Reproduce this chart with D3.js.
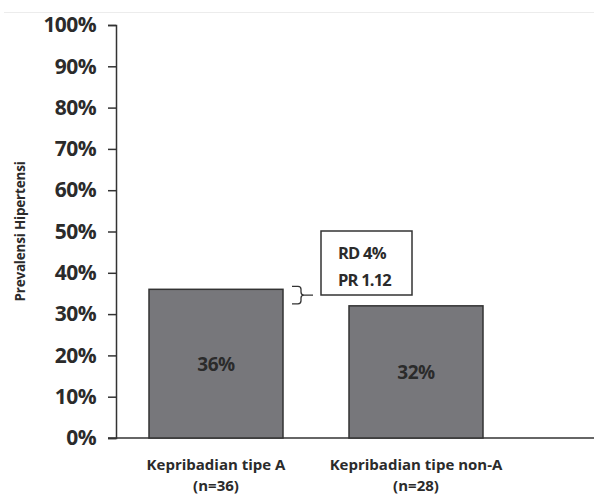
<!DOCTYPE html>
<html>
<head>
<meta charset="utf-8">
<script src="https://cdn.jsdelivr.net/npm/d3@7"></script>
<style>
  html, body { margin: 0; padding: 0; background: #fff; }
  svg { display: block; }
  text { font-family: "Open Sans", "DejaVu Sans", sans-serif; font-weight: 700; fill: #2b2b2b; }
</style>
</head>
<body>
<script>
const categories = ["Kepribadian tipe A", "Kepribadian tipe non-A"];
const sampleSizes = ["(n=36)", "(n=28)"];
const values = [0.36, 0.32];
const valueLabels = ["36%", "32%"];
const tickValues = [0, 0.1, 0.2, 0.3, 0.4, 0.5, 0.6, 0.7, 0.8, 0.9, 1.0];
const tickLabels = ["0%", "10%", "20%", "30%", "40%", "50%", "60%", "70%", "80%", "90%", "100%"];
const annotationLines = ["RD 4%", "PR 1.12"];
const yTitle = "Prevalensi Hipertensi";

const W = 594, H = 497;
const svg = d3.select("body").append("svg").attr("width", W).attr("height", H);

// faint page rule at top
svg.append("line").attr("x1", 4).attr("x2", W).attr("y1", 12.5).attr("y2", 12.5)
  .attr("stroke", "#ececec").attr("stroke-width", 1);

const y = d3.scaleLinear().domain([0, 1]).range([438, 25]);
const x = d3.scaleBand().domain(categories).range([116, 516]).paddingInner(0.33).paddingOuter(0.165);

// baseline
svg.append("line")
  .attr("x1", 108).attr("x2", W).attr("y1", y(0)).attr("y2", y(0))
  .attr("stroke", "#333").attr("stroke-width", 1.5);

// y axis
const yAxis = d3.axisLeft(y).tickValues(tickValues)
  .tickFormat((d, i) => tickLabels[i]).tickSize(8).tickPadding(12);
const gy = svg.append("g").attr("transform", "translate(116,0)").call(yAxis);
gy.selectAll("path, line").attr("stroke", "#333").attr("stroke-width", 1.5);
gy.selectAll("text").style("font-size", "21px").style("letter-spacing", "-0.6px")
  .style("font-family", "'Open Sans', sans-serif").style("font-weight", 700).attr("fill", "#2b2b2b");

// y title
svg.append("text")
  .attr("transform", `translate(25,${y(0.5)}) rotate(-90)`)
  .attr("text-anchor", "middle")
  .style("font-size", "13.5px")
  .style("letter-spacing", "-0.2px")
  .text(yTitle);

// bars
svg.selectAll("rect.bar").data(values).join("rect")
  .attr("class", "bar")
  .attr("x", (d, i) => x(categories[i]))
  .attr("width", x.bandwidth())
  .attr("y", d => y(d))
  .attr("height", d => y(0) - y(d))
  .attr("fill", "#77777b")
  .attr("stroke", "#333")
  .attr("stroke-width", 1.5);

// bar labels
svg.selectAll("text.vlab").data(values).join("text")
  .attr("class", "vlab")
  .attr("x", (d, i) => x(categories[i]) + x.bandwidth() / 2)
  .attr("y", d => (y(d) + y(0)) / 2 + 7)
  .attr("text-anchor", "middle")
  .style("font-size", "19px")
  .style("letter-spacing", "-0.4px")
  .text((d, i) => valueLabels[i]);

// category labels
categories.forEach((c, i) => {
  const cx = x(c) + x.bandwidth() / 2;
  svg.append("text").attr("text-anchor", "middle").style("font-size", "15px")
    .style("letter-spacing", "0px").attr("x", cx).attr("y", 470).text(c);
  svg.append("text").attr("text-anchor", "middle").style("font-size", "15px")
    .style("letter-spacing", "0px").attr("x", cx).attr("y", 491).text(sampleSizes[i]);
});

// annotation: brace + box
const bx0 = x(categories[0]) + x.bandwidth() + 9;
const yTop = y(values[0]) - 3, yBot = y(values[1]) - 2, yMid = (yTop + yBot) / 2;
const bxMid = bx0 + 9, bx1 = bx0 + 21;
svg.append("path")
  .attr("d", `M${bx0},${yTop} H${bxMid-3} Q${bxMid},${yTop} ${bxMid},${yTop+3} V${yMid-3} Q${bxMid},${yMid} ${bxMid+3},${yMid} H${bx1}` +
             ` M${bxMid+3},${yMid} Q${bxMid},${yMid} ${bxMid},${yMid+3} V${yBot-3} Q${bxMid},${yBot} ${bxMid-3},${yBot} H${bx0}`)
  .attr("fill", "none").attr("stroke", "#333").attr("stroke-width", 1.3);

const boxX = bx1 + 8, boxY = 231, boxW = 91, boxH = 64;
svg.append("rect").attr("x", boxX).attr("y", boxY).attr("width", boxW).attr("height", boxH)
  .attr("fill", "#fff").attr("stroke", "#333").attr("stroke-width", 1.5);
annotationLines.forEach((s, i) => {
  svg.append("text").attr("x", boxX + 17).attr("y", boxY + 28 + i * 27)
    .style("font-size", "16.5px").style("letter-spacing", "-0.8px").text(s);
});
</script>
</body>
</html>
